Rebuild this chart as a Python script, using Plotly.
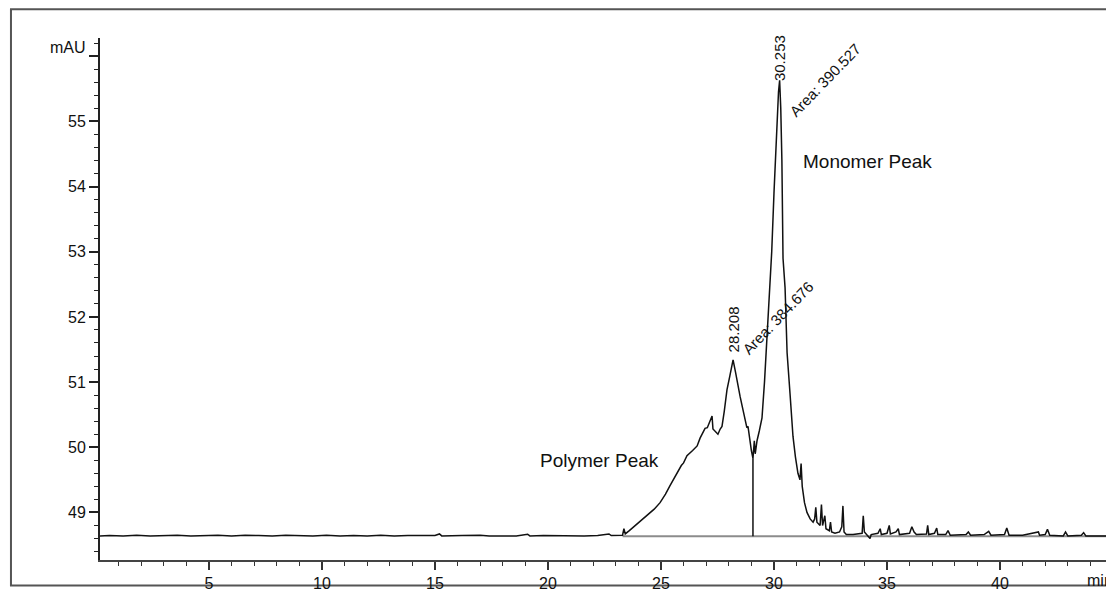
import plotly.graph_objects as go

# ---- chromatogram trace (time in min, signal in mAU) ----
time_min = [
    0.18, 0.6, 1.2, 1.8, 2.4, 3.0, 3.6, 4.2, 4.8, 5.4, 6.0, 6.6, 7.2, 7.8, 8.4, 9.0, 9.6,
    10.2, 10.8, 11.4, 12.0, 12.6, 13.2, 13.8, 14.4, 15.0, 15.2, 15.3, 16.2, 17.0, 17.4,
    18.0, 18.6, 19.1, 19.2, 19.8, 20.4, 21.0, 21.6, 22.2, 22.7, 22.8, 23.3,
    23.36, 23.42, 23.6, 23.77, 24.0, 24.38, 24.7, 24.96, 25.2, 25.4, 25.7, 25.9, 26.0,
    26.15, 26.4, 26.6, 26.73, 26.86, 26.95, 27.05, 27.17, 27.26, 27.3, 27.4, 27.52,
    27.62, 27.7, 27.8, 27.92, 28.05, 28.19, 28.3, 28.4, 28.5, 28.6, 28.72, 28.8, 28.85,
    28.94, 29.0, 29.07, 29.13, 29.17, 29.25, 29.35, 29.47, 29.58, 29.69, 29.8, 29.9,
    30.0, 30.1, 30.2, 30.25, 30.3, 30.35, 30.4, 30.49, 30.58, 30.71, 30.84, 30.95,
    31.06, 31.15, 31.2, 31.25, 31.35, 31.46, 31.6, 31.73, 31.8, 31.85, 31.9, 32.04,
    32.1, 32.15, 32.25, 32.3, 32.45, 32.5, 32.55, 32.7, 32.9, 33.0, 33.05, 33.1, 33.2,
    33.5, 33.9, 33.95, 34.0, 34.25, 34.3, 34.6, 34.7, 34.75, 35.0, 35.1, 35.15, 35.4,
    35.5, 35.55, 36.0, 36.1, 36.2, 36.3, 36.75, 36.8, 36.85, 37.1, 37.2, 37.25, 37.6,
    37.7, 37.8, 38.5, 38.6, 38.7, 39.3, 39.5, 39.6, 40.2, 40.3, 40.4, 41.0, 41.7,
    41.75, 42.0, 42.1, 42.2, 42.8, 42.9, 43.0, 43.6, 43.7, 43.8, 44.7,
]
signal_mau = [
    48.64, 48.645, 48.64, 48.65, 48.64, 48.645, 48.65, 48.64, 48.645, 48.65, 48.64, 48.65,
    48.645, 48.64, 48.65, 48.645, 48.64, 48.65, 48.64, 48.645, 48.64, 48.65, 48.64, 48.645,
    48.64, 48.645, 48.67, 48.64, 48.645, 48.65, 48.64, 48.645, 48.64, 48.665, 48.64,
    48.645, 48.64, 48.645, 48.64, 48.645, 48.67, 48.645, 48.65,
    48.75, 48.67, 48.72, 48.77, 48.83, 48.95, 49.05, 49.15, 49.28, 49.41, 49.6, 49.72,
    49.76, 49.87, 49.95, 50.02, 50.14, 50.22, 50.29, 50.3, 50.4, 50.48, 50.28, 50.24,
    50.2, 50.28, 50.32, 50.55, 50.88, 51.1, 51.34, 51.15, 50.95, 50.78, 50.62, 50.43,
    50.3, 50.32, 50.06, 49.95, 49.83, 50.1, 49.9, 50.1, 50.25, 50.45, 51.0, 51.65, 52.3,
    53.0, 53.9, 54.8, 55.45, 55.63, 55.2, 54.4, 52.9, 52.45, 51.45, 50.82, 50.17, 49.85,
    49.6, 49.5, 49.75, 49.4, 49.15, 49.0, 48.9, 48.85, 48.9, 49.08, 48.85, 48.8, 49.12,
    48.8, 48.95, 48.75, 48.72, 48.85, 48.7, 48.68, 48.7, 48.78, 49.1, 48.7, 48.66,
    48.66, 48.68, 48.95, 48.7, 48.6, 48.66, 48.68, 48.75, 48.66, 48.68, 48.8, 48.67,
    48.7, 48.75, 48.66, 48.68, 48.78, 48.7, 48.66, 48.67, 48.8, 48.66, 48.68, 48.76,
    48.66, 48.66, 48.72, 48.65, 48.66, 48.7, 48.65, 48.66, 48.71, 48.65, 48.66, 48.76,
    48.65, 48.65, 48.7, 48.65, 48.66, 48.74, 48.65, 48.64, 48.7, 48.64, 48.65, 48.69,
    48.64, 48.64,
]

# ---- integration results ----
peak_rt = [28.208, 30.253]
peak_height = [51.34, 55.63]
peak_area = [384.676, 390.527]
integ_baseline_t = [23.3, 44.7]
integ_baseline_y = [48.635, 48.635]
drop_t = 29.07
drop_y = [48.635, 49.83]

# ---- axes ----
x_range = [0.18, 44.69]
y_range = [48.27, 56.28]
x_ticks = [5, 10, 15, 20, 25, 30, 35, 40]
y_ticks = [49, 50, 51, 52, 53, 54, 55, 56]
y_ticktext = ["49", "50", "51", "52", "53", "54", "55", ""]
y_unit = "mAU"
x_unit = "min"

FONT = "Liberation Sans, Arial, sans-serif"
INK = "#111111"

fig = go.Figure()
fig.add_trace(go.Scatter(x=integ_baseline_t, y=integ_baseline_y, mode="lines",
                         line=dict(color="#8c8c8c", width=2), hoverinfo="skip"))
fig.add_trace(go.Scatter(x=[drop_t, drop_t], y=drop_y, mode="lines",
                         line=dict(color=INK, width=1.5), hoverinfo="skip"))
fig.add_trace(go.Scatter(x=time_min, y=signal_mau, mode="lines",
                         line=dict(color=INK, width=1.5)))

# peak annotations
fig.add_annotation(x=peak_rt[0], y=peak_height[0], text=f"{peak_rt[0]:.3f}", textangle=-90,
                   showarrow=False, xanchor="center", yanchor="bottom", yshift=6,
                   font=dict(size=15, color=INK, family=FONT))
fig.add_annotation(x=peak_rt[0], y=peak_height[0], text=f"Area: {peak_area[0]:.3f}", textangle=-46,
                   showarrow=False, xanchor="center", yanchor="middle", xshift=45, yshift=42,
                   font=dict(size=15, color=INK, family=FONT))
fig.add_annotation(x=peak_rt[1], y=peak_height[1], text=f"{peak_rt[1]:.3f}", textangle=-90,
                   showarrow=False, xanchor="center", yanchor="bottom", yshift=-3,
                   font=dict(size=15, color=INK, family=FONT))
fig.add_annotation(x=peak_rt[1], y=peak_height[1], text=f"Area: {peak_area[1]:.3f}", textangle=-46,
                   showarrow=False, xanchor="center", yanchor="middle", xshift=45, yshift=0,
                   font=dict(size=15, color=INK, family=FONT))
fig.add_annotation(x=34.12, y=54.39, text="Monomer Peak", showarrow=False,
                   xanchor="center", yanchor="middle", font=dict(size=19, color=INK, family=FONT))
fig.add_annotation(x=22.3, y=49.8, text="Polymer Peak", showarrow=False,
                   xanchor="center", yanchor="middle", font=dict(size=19, color=INK, family=FONT))
# axis unit labels
fig.add_annotation(x=0, xref="paper", xshift=-12, y=56.13, text=y_unit, showarrow=False,
                   xanchor="right", yanchor="middle", font=dict(size=16, color=INK, family=FONT))
fig.add_annotation(x=0.979, xref="paper", y=-0.02, yref="paper", text=x_unit, showarrow=False,
                   xanchor="left", yanchor="top", font=dict(size=16, color=INK, family=FONT))

# outer frame
fig.add_shape(type="rect", xref="paper", yref="paper", x0=-0.0885, x1=1.01, y0=-0.049, y1=1.055,
              line=dict(color="#555555", width=2), layer="below")

fig.update_layout(
    width=1106, height=592, autosize=False,
    margin=dict(l=100, r=0, t=38, b=27),
    paper_bgcolor="white", plot_bgcolor="white",
    showlegend=False,
    font=dict(family=FONT, size=16, color=INK),
)
fig.update_xaxes(range=x_range, tickmode="array", tickvals=x_ticks, ticks="outside", ticklen=8,
                 tickwidth=1.5, tickcolor="#333", showline=True, linecolor="#444", linewidth=1.5,
                 showgrid=False, zeroline=False, tickfont=dict(size=16),
                 minor=dict(tickmode="linear", tick0=0, dtick=1, ticks="outside", ticklen=4,
                            tickcolor="#333", tickwidth=1.2, showgrid=False))
fig.update_yaxes(range=y_range, tickmode="array", tickvals=y_ticks, ticktext=y_ticktext,
                 ticks="outside", ticklen=9, tickwidth=1.5, tickcolor="#222", showline=True,
                 linecolor="#222", linewidth=2, showgrid=False, zeroline=False, tickfont=dict(size=16),
                 minor=dict(tickmode="linear", tick0=0, dtick=0.2, ticks="outside", ticklen=4,
                            tickcolor="#222", tickwidth=1.2, showgrid=False))

# remove the default page margin so the 1106x592 figure fills the window exactly
fig.write_html("out.html",
               config={"displayModeBar": False},
               post_script="document.documentElement.style.margin='0';"
                           "document.body.style.margin='0';"
                           "document.documentElement.style.overflow='hidden';"
                           "document.body.style.overflow='hidden';")
